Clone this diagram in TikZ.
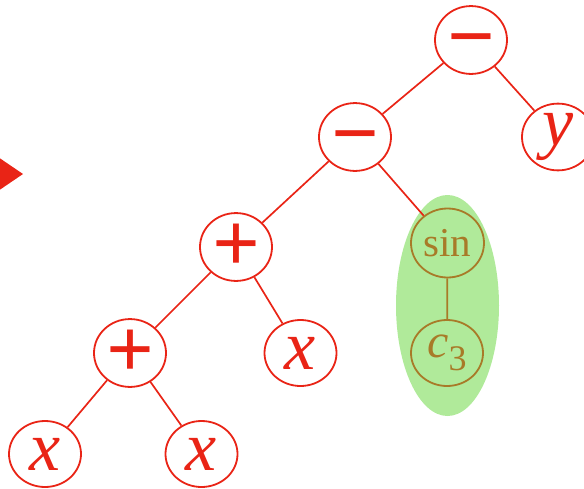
\documentclass[tikz,border=0pt]{standalone}
\usepackage{fontspec}
\setmainfont{Liberation Serif}
\usepackage{tikz}
\usetikzlibrary{shapes.geometric}

\definecolor{treered}{RGB}{233,36,22}
\definecolor{subbrown}{RGB}{168,122,40}
\definecolor{subgreen}{RGB}{176,234,154}

\tikzset{
  tnode/.style={ellipse, draw=treered, line width=1.8pt, text=treered,
    minimum width=72pt, minimum height=66pt, inner sep=0pt},
  snode/.style={tnode, draw=subbrown, text=subbrown},
  opfont/.style={font=\fontsize{84}{84}\selectfont\bfseries,
    text height=48pt, text depth=0pt},
  varfont/.style={font=\fontsize{70}{70}\selectfont\itshape},
}

\begin{document}
\begin{tikzpicture}[x=1pt, y=-1pt]
      \useasboundingbox (0, 0) rectangle (584, 488);

      % Highlighted subtree and arrow
      \fill [subgreen] (447.5, 305.5) ellipse [x radius=51.5, y radius=110.5];
      \fill [treered] (-30, 138) -- (23, 174) -- (-30, 210) -- cycle;

      % Tree
      \node [tnode, opfont] (root) at (471, 40) {−};
      \node [tnode, opfont] (minus) at (355, 137) {−};
      \node [tnode, varfont] (y) at (558, 137) {y};
      \node [tnode, opfont] (plusa) at (236, 247) {+};
      \node [snode, font=\fontsize{41}{41}\selectfont, minimum width=73pt, minimum height=69pt] (sin) at (447.5, 243) {sin};
      \node [tnode, opfont] (plusb) at (130, 353) {+};
      \node [tnode, varfont] (xc) at (300.5, 353) {x};
      \node [snode] (c) at (447, 353) {{\fontsize{48}{48}\selectfont\itshape c}\raisebox{-13pt}{\fontsize{36}{36}\selectfont 3}};
      \node [tnode, varfont] (xa) at (45, 454) {x};
      \node [tnode, varfont] (xb) at (201.5, 454) {x};

      \begin{scope}[treered, line width=1.7pt]
        \draw (root) -- (minus);
        \draw (root) -- (y);
        \draw (minus) -- (plusa);
        \draw (minus) -- (sin);
        \draw (plusa) -- (plusb);
        \draw (plusa) -- (xc);
        \draw (plusb) -- (xa);
        \draw (plusb) -- (xb);
      \end{scope}
      \draw [subbrown, line width=1.7pt] (sin) -- (c);
    \end{tikzpicture}
\end{document}
